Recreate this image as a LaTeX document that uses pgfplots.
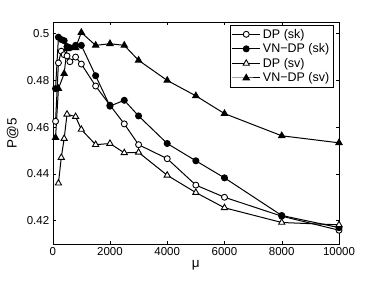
\documentclass[border=0pt]{standalone}
\usepackage{fontspec}
\setmainfont{Liberation Sans}
\usepackage{pgfplots}
\pgfplotsset{compat=1.18}
\begin{document}
\begin{tikzpicture}
\begin{axis}[name=ax, scale only axis, width=286.3pt, height=222pt,
  xmin=0, xmax=10000, ymin=0.41, ymax=0.505,
  xtick={0,2000,4000,6000,8000,10000},
  ytick={0.42,0.44,0.46,0.48,0.5},
  scaled ticks=false,
  /pgf/number format/assume math mode=true,
  xticklabel style={/pgf/number format/1000 sep={}},
  yticklabel style={/pgf/number format/fixed,/pgf/number format/precision=2},
  tick label style={font=\fontsize{11.5}{13}\selectfont},
  label style={font=\fontsize{13.5}{15}\selectfont},
  xlabel={μ}, ylabel={P@5},
  xlabel style={at={(axis description cs:0.5,-0.095)}, anchor=center},
  ylabel style={at={(axis description cs:-0.14,0.5)}, anchor=center},
  tick align=inside, major tick length=3pt,
  every tick/.style={black, thin},
  legend style={at={(0.979,0.985)}, anchor=north east, draw=black,
    font=\fontsize{12.5}{14}\selectfont, cells={anchor=west},
    inner sep=1.5pt, row sep=0pt},
  legend image code/.code={\draw[mark repeat=2,mark phase=2] plot coordinates {(0cm,0cm) (0.5cm,0cm) (1cm,0cm)};},
]
\addplot[black, line width=1pt, mark=*, mark size=3pt, mark options={solid, fill=white, line width=0.9pt}] coordinates {
(100,0.4625) (200,0.4875) (300,0.4925) (400,0.4910) (500,0.4905) (600,0.4880) (800,0.4900) (1000,0.4870)
(1500,0.4776) (2000,0.4694) (2500,0.4614) (3000,0.4525) (4000,0.4465) (5000,0.4352) (6000,0.4300) (8000,0.4219) (10000,0.4159)};
\addlegendentry{DP (sk)}
\addplot[black, line width=1pt, mark=*, mark size=3pt, mark options={solid, fill=black}] coordinates {
(100,0.4765) (200,0.4985) (300,0.4975) (400,0.4970) (500,0.4945) (600,0.4940) (800,0.4950) (1000,0.4950)
(1500,0.4820) (2000,0.4690) (2500,0.4715) (3000,0.4648) (4000,0.4530) (5000,0.4456) (6000,0.4383) (8000,0.4222) (10000,0.4170)};
\addlegendentry{VN−DP (sk)}
\addplot[black, line width=1pt, mark=triangle*, mark size=3.6pt, mark options={solid, fill=white, line width=0.9pt}] coordinates {
(200,0.4360) (300,0.4470) (400,0.4551) (500,0.4655) (800,0.4645) (1000,0.4590)
(1500,0.4525) (2000,0.4530) (2500,0.4490) (3000,0.4492) (4000,0.4394) (5000,0.4320) (6000,0.4255) (8000,0.4192) (10000,0.4182)};
\addlegendentry{DP (sv)}
\addplot[black, line width=1pt, mark=triangle*, mark size=3.6pt, mark options={solid, fill=black}] coordinates {
(100,0.4555) (200,0.4765) (400,0.4829) (500,0.4935) (800,0.4940) (1000,0.5005)
(1500,0.4950) (2000,0.4957) (2500,0.4950) (3000,0.4886) (4000,0.4800) (5000,0.4734) (6000,0.4658) (8000,0.4563) (10000,0.4533)};
\addlegendentry{VN−DP (sv)}
\end{axis}
\pgfresetboundingbox
\path[use as bounding box] ([xshift=-52.7pt,yshift=-37pt]ax.south west) rectangle ([xshift=35pt,yshift=22pt]ax.north east);
\end{tikzpicture}
\end{document}
